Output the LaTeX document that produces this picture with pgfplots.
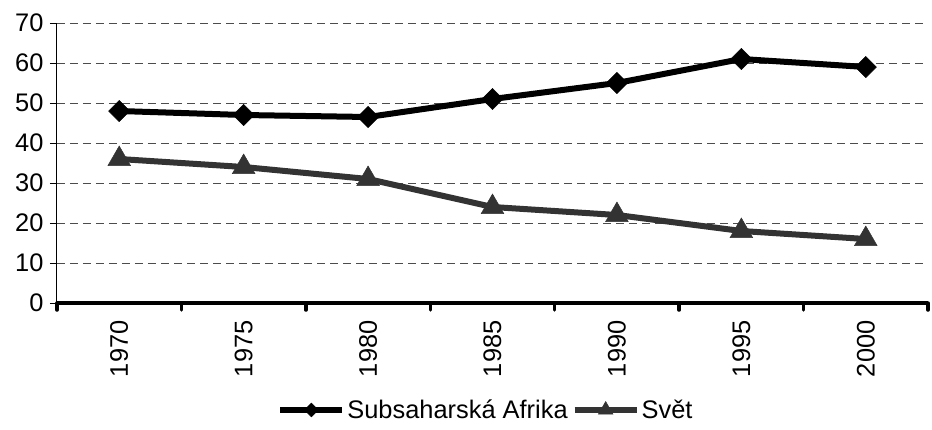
\documentclass[border=0pt]{standalone}
\usepackage{fontspec}
\setmainfont{Liberation Sans}
\usepackage{pgfplots}
\pgfplotsset{compat=1.18}
\definecolor{svet}{HTML}{333333}
\begin{document}
\begin{tikzpicture}[font=\fontsize{25.5}{30}\selectfont]
\useasboundingbox (-57bp,-127bp) rectangle (875bp,303bp);
\begin{axis}[
  at={(0,0)}, anchor=south west,
  scale only axis, width=871bp, height=280bp,
  xmin=-0.5, xmax=6.5, ymin=0, ymax=70,
  axis x line*=bottom, axis y line*=left,
  x axis line style={line width=4bp},
  y axis line style={line width=1bp},
  xtick={0,...,6},
  xticklabels={1970,1975,1980,1985,1990,1995,2000},
  xticklabel style={rotate=90, anchor=east, xshift=-7bp},
  major x tick style={draw=none},
  minor xtick={-0.5,0.5,...,6.5},
  minor x tick style={line width=3.5bp, line cap=round, black},
  minor tick length=7bp,
  major tick length=7bp,
  tick align=outside,
  ytick={0,10,...,70},
  y tick style={line width=1bp, black},
  yticklabel style={xshift=-3bp},
  /pgf/number format/assume math mode=true,
  ymajorgrids,
  major grid style={dash pattern=on 8bp off 5bp, line width=1bp, black!70},
  legend style={at={(0.4925,-0.382)}, anchor=center, draw=none, fill=none,
    legend columns=2, nodes={inner xsep=2bp, inner ysep=1bp},
    /tikz/every even column/.append style={column sep=2bp}},
  legend image code/.code={%
    \draw[mark repeat=2,mark phase=2,every mark/.append style={scale=0.65}] plot coordinates {(0bp,0bp) (31bp,0bp) (62bp,0bp)};},
]
\addplot[black, line width=6bp, mark=square*, mark size=7.5bp,
  mark options={solid, rotate=45, line width=0.5bp, fill=black}]
  coordinates {(0,48) (1,47) (2,46.5) (3,51) (4,55) (5,61) (6,59)};
\addlegendentry{Subsaharská Afrika}
\addplot[svet, line width=6bp, mark=triangle*, mark size=13bp,
  mark options={solid, line width=0.5bp, fill=svet}]
  coordinates {(0,36) (1,34) (2,31) (3,24) (4,22) (5,18) (6,16)};
\addlegendentry{Svět}
\end{axis}
\end{tikzpicture}
\end{document}
